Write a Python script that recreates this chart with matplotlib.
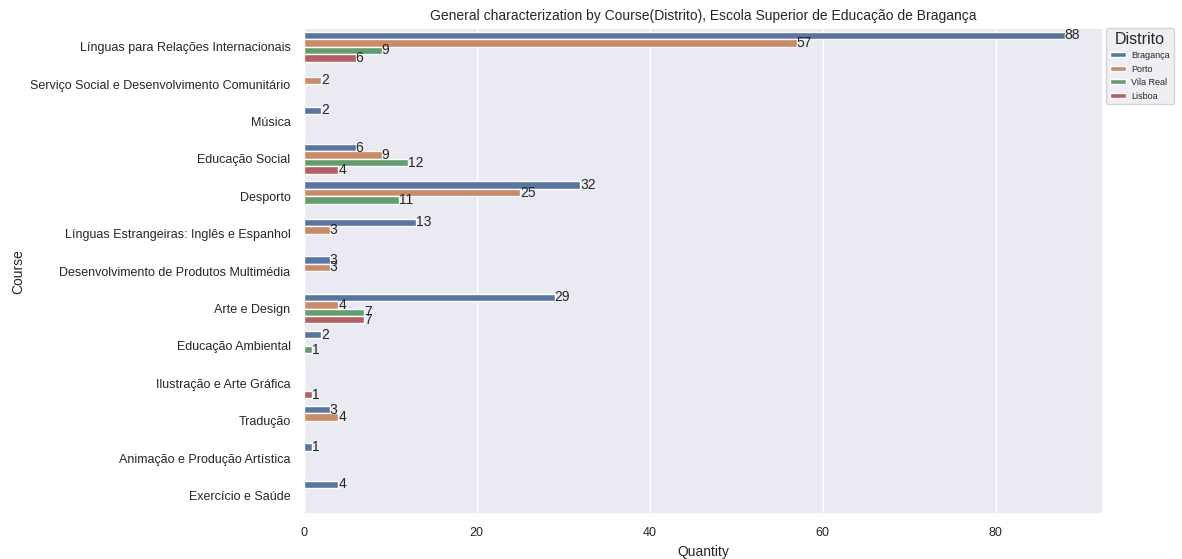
import matplotlib
matplotlib.use("Agg")
import matplotlib.pyplot as plt
import numpy as np
import seaborn as sns

courses = [
    "Línguas para Relações Internacionais",
    "Serviço Social e Desenvolvimento Comunitário",
    "Música",
    "Educação Social",
    "Desporto",
    "Línguas Estrangeiras: Inglês e Espanhol",
    "Desenvolvimento de Produtos Multimédia",
    "Arte e Design",
    "Educação Ambiental",
    "Ilustração e Arte Gráfica",
    "Tradução",
    "Animação e Produção Artística",
    "Exercício e Saúde",
]
distritos = ["Bragança", "Porto", "Vila Real", "Lisboa"]

# None = no students from that district
braganca = [88, None, 2, 6, 32, 13, 3, 29, 2, None, 3, 1, 4]
porto = [57, 2, None, 9, 25, 3, 3, 4, None, None, 4, None, None]
vila_real = [9, None, None, 12, 11, None, None, 7, 1, None, None, None, None]
lisboa = [6, None, None, 4, None, None, None, 7, None, 1, None, None, None]
series = [braganca, porto, vila_real, lisboa]

sns.set_theme(style="darkgrid")
plt.rcParams['font.family'] = ['Liberation Sans', 'DejaVu Sans']

colors = [sns.desaturate(c, 0.75) for c in sns.color_palette("deep", 4)]

fig, ax = plt.subplots(figsize=(11.82, 5.59), dpi=100)
fig.subplots_adjust(left=0.257, right=0.933, top=0.95, bottom=0.08)

y = np.arange(len(courses))
h = 0.8 / len(distritos)
for i, (name, vals) in enumerate(zip(distritos, series)):
    widths = [v if v is not None else 0 for v in vals]
    labels = [str(v) if v is not None else "" for v in vals]
    pos = y - 0.4 + h / 2 + i * h
    bars = ax.barh(pos, widths, height=h, color=colors[i], label=name)
    ax.bar_label(bars, labels=labels, fontsize=10, color=".15")

ax.set_yticks(y)
ax.set_yticklabels(courses, fontsize=9)
ax.set_ylim(len(courses) - 0.5, -0.5)
ax.grid(False, axis="y")
ax.tick_params(axis="x", labelsize=9)
ax.set_xlabel("Quantity", fontsize=10)
ax.set_ylabel("Course", fontsize=10)
ax.set_title("General characterization by Course(Distrito), Escola Superior de Educação de Bragança", fontsize=10)

leg = ax.legend(title="Distrito", loc="upper left", bbox_to_anchor=(1.004, 1), fontsize=6.5,
                title_fontsize=11.5, borderaxespad=0, handlelength=1.8, handleheight=0.5,
                handletextpad=0.6)

fig.savefig("out.png", dpi=100)
